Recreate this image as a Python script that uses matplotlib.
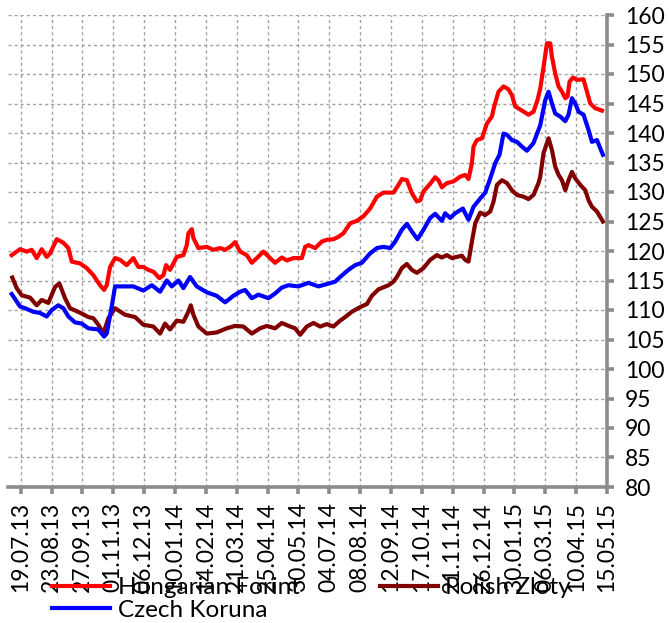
import matplotlib
matplotlib.use('Agg')
import matplotlib.pyplot as plt

# tick labels (every 5 weeks)
tick_labels = ["19.07.13", "23.08.13", "27.09.13", "01.11.13", "06.12.13", "10.01.14",
               "14.02.14", "21.03.14", "25.04.14", "30.05.14", "04.07.14", "08.08.14",
               "12.09.14", "17.10.14", "21.11.14", "26.12.14", "30.01.15", "06.03.15",
               "10.04.15", "15.05.15"]

# x = weeks since 19.07.13
huf_x = [-1.46, -0.11, 0.97, 1.78, 2.59, 3.40, 4.21, 4.75, 5.84, 6.91, 7.72, 8.27, 9.61, 10.70,
         11.77, 12.85, 13.50, 13.94, 14.48, 15.29, 16.10, 17.18, 18.25, 19.06, 19.87, 20.68,
         21.49, 22.47, 23.12, 23.55, 24.20, 24.74, 25.29, 26.36, 26.91, 27.17, 27.72, 27.98,
         28.79, 30.15, 31.22, 32.31, 33.12, 33.93, 34.74, 35.55, 36.63, 37.45, 38.26, 39.33,
         40.41, 41.22, 42.31, 43.12, 44.19, 45.55, 46.09, 46.62, 47.71, 48.79, 49.60, 50.67,
         51.48, 52.29, 53.38, 54.47, 55.54, 56.62, 57.71, 58.78, 60.40, 61.21, 61.76, 62.57,
         63.38, 64.19, 64.73, 65.26, 66.35, 67.16, 67.69, 68.24, 69.05, 70.13, 71.21, 72.02,
         72.56, 73.11, 73.37, 73.92, 74.73, 75.54, 76.35, 76.72, 77.42, 78.23, 79.04, 79.59,
         80.13, 81.21, 82.28, 83.09, 83.74, 84.18, 84.72, 85.27, 85.80, 86.08, 86.61, 87.15,
         87.70, 88.24, 88.61, 88.93, 89.49, 90.14, 91.20, 91.75, 92.29, 93.10, 94.18]
huf_y = [119.3, 120.3, 119.9, 120.2, 118.8, 120.3, 119.0, 119.6, 122.0, 121.4, 120.5, 118.2,
         117.9, 117.1, 115.9, 114.2, 113.4, 114.2, 117.3, 118.8, 118.5, 117.6, 118.8, 117.3,
         117.3, 116.8, 116.5, 115.4, 115.9, 117.6, 116.8, 117.9, 119.0, 119.3, 121.0, 123.0,
         123.7, 122.2, 120.5, 120.7, 120.2, 120.5, 120.2, 120.7, 121.5, 119.9, 119.3, 118.0,
         118.8, 119.9, 118.8, 118.0, 118.9, 118.4, 118.8, 118.8, 120.7, 121.0, 120.5, 121.6,
         121.9, 122.0, 122.4, 123.0, 124.7, 125.1, 125.9, 127.2, 129.2, 129.9, 129.9, 131.2,
         132.2, 132.0, 129.8, 128.4, 128.6, 130.1, 131.4, 132.5, 132.0, 130.8, 131.5, 131.8,
         132.6, 132.9, 132.2, 134.9, 137.7, 138.8, 139.1, 141.6, 142.8, 144.5, 147.0, 147.9,
         147.4, 146.4, 144.5, 143.8, 143.1, 143.6, 145.6, 147.5, 151.2, 155.2, 155.2, 152.9,
         150.1, 147.9, 147.0, 145.9, 146.2, 148.7, 149.4, 149.0, 149.1, 147.0, 145.0, 144.2,
         143.8]

pln_x = [-1.36, -0.65, 0.16, 1.51, 2.59, 3.40, 4.47, 5.56, 6.26, 7.18, 7.99, 9.08, 9.89, 10.96,
         11.77, 12.58, 13.39, 14.20, 15.29, 16.91, 18.53, 19.87, 21.49, 22.58, 23.39, 24.20,
         25.29, 26.36, 27.17, 27.56, 27.98, 28.79, 30.15, 31.77, 33.39, 34.74, 36.08, 37.45,
         38.79, 39.88, 41.22, 42.31, 43.65, 44.46, 45.28, 46.36, 47.43, 48.52, 49.60, 50.67,
         51.76, 52.57, 53.65, 55.01, 56.09, 56.90, 57.97, 59.60, 60.40, 60.95, 61.76, 62.57,
         63.38, 64.19, 65.26, 66.35, 67.43, 68.24, 69.05, 69.86, 70.67, 71.48, 72.02, 72.56,
         73.11, 73.65, 74.46, 75.27, 76.08, 76.62, 77.17, 77.98, 78.79, 79.59, 80.40, 81.48,
         82.28, 83.09, 83.90, 84.18, 84.72, 85.53, 86.08, 86.61, 87.15, 87.70, 88.24, 88.77,
         89.32, 89.86, 90.67, 91.48, 92.01, 92.56, 93.37, 94.34]
pln_y = [115.5, 113.7, 112.5, 112.1, 110.8, 111.7, 111.2, 113.9, 114.5, 112.0, 110.3, 109.8,
         109.4, 108.8, 108.6, 107.5, 106.0, 108.6, 110.3, 109.2, 108.8, 107.5, 107.2, 106.0,
         107.7, 106.7, 108.2, 108.0, 109.7, 110.8, 109.2, 107.2, 106.0, 106.2, 106.9, 107.3,
         107.2, 106.0, 106.9, 107.3, 106.9, 107.8, 107.2, 106.9, 105.8, 107.2, 107.8, 107.2,
         107.6, 107.2, 108.2, 108.8, 109.7, 110.5, 111.0, 112.4, 113.5, 114.2, 114.8, 115.6,
         117.1, 117.8, 116.8, 116.3, 117.1, 118.5, 119.3, 118.9, 119.3, 118.8, 119.0, 119.2,
         118.5, 118.2, 121.6, 124.7, 126.5, 126.1, 126.7, 128.4, 131.2, 132.0, 131.5, 130.3,
         129.5, 129.2, 128.8, 129.5, 131.5, 132.6, 136.6, 139.1, 137.1, 134.3, 132.9, 132.0,
         130.3, 132.0, 133.4, 132.3, 131.2, 130.3, 128.6, 127.5, 126.7, 125.0]

czk_x = [-1.46, -0.11, 0.70, 2.04, 3.13, 4.21, 5.03, 6.09, 6.91, 7.72, 8.80, 9.89, 10.96, 12.58,
         13.13, 13.50, 13.94, 14.75, 15.29, 16.63, 18.25, 19.87, 21.24, 22.58, 23.67, 24.48,
         25.55, 26.36, 27.44, 28.53, 30.15, 31.77, 33.12, 34.46, 35.55, 36.36, 37.45, 38.52,
         40.14, 41.22, 42.31, 43.38, 45.00, 46.62, 48.24, 49.60, 50.95, 51.76, 53.10, 54.19,
         55.28, 56.62, 57.71, 58.78, 59.87, 60.68, 61.76, 62.57, 63.38, 64.29, 65.26, 66.35,
         67.16, 68.24, 68.78, 69.59, 70.40, 71.64, 72.56, 73.37, 74.46, 75.27, 76.08, 76.89,
         77.58, 78.23, 78.79, 79.59, 80.40, 81.21, 82.03, 83.09, 84.18, 85.00, 85.53, 86.08,
         86.61, 87.42, 88.24, 88.77, 89.32, 89.86, 90.39, 91.20, 92.01, 92.56, 93.37, 94.34]
czk_y = [112.7, 110.6, 110.3, 109.7, 109.5, 108.9, 110.0, 110.8, 110.3, 108.9, 107.9, 107.7,
         106.9, 106.7, 106.0, 105.5, 106.0, 110.6, 114.0, 114.0, 114.0, 113.3, 114.2, 113.1,
         115.0, 114.0, 115.0, 113.7, 115.6, 114.0, 113.0, 112.4, 111.3, 112.4, 113.1, 113.4,
         112.0, 112.6, 112.0, 112.8, 113.8, 114.2, 114.0, 114.6, 114.0, 114.4, 114.8, 115.6,
         116.8, 117.6, 118.0, 119.6, 120.5, 120.7, 120.5, 121.6, 123.6, 124.6, 123.3, 122.0,
         123.6, 125.6, 126.3, 125.1, 126.4, 125.6, 126.4, 127.2, 125.3, 127.5, 128.9, 129.9,
         132.3, 134.9, 136.3, 139.9, 139.7, 138.8, 138.5, 137.7, 137.0, 138.3, 141.3, 145.6,
         147.0, 145.0, 143.3, 142.8, 142.0, 143.1, 145.9, 145.0, 143.6, 143.1, 140.5, 138.5,
         138.8, 136.3]

FONT = 'Lato'
AXIS_GREY = '#8c8c8c'

fig = plt.figure(figsize=(6.69, 6.23), dpi=100)
ax = fig.add_axes([8 / 669, 1 - 487 / 623, 599 / 669, 472 / 623])

l_huf, = ax.plot(huf_x, huf_y, color='#ff0000', lw=3, label='Hungarian Forint', solid_joinstyle='round')
l_pln, = ax.plot(pln_x, pln_y, color='#800000', lw=3, label='Polish Zloty', solid_joinstyle='round')
l_czk, = ax.plot(czk_x, czk_y, color='#0000ff', lw=3, label='Czech Koruna', solid_joinstyle='round')

ax.set_xlim(-2.06, 95)
ax.set_ylim(80, 160)
ax.set_xticks(range(0, 96, 5))
ax.set_xticklabels(tick_labels, rotation=90, fontsize=16.5, family=FONT, color='black')
ax.set_yticks(range(80, 161, 5))
ax.yaxis.tick_right()
for lab in ax.get_yticklabels():
    lab.set_fontsize(16.5)
    lab.set_family(FONT)

ax.grid(True, color='#a0a0a0', linestyle=(0, (2.2, 2.2)), linewidth=1)
ax.set_axisbelow(True)

ax.spines['left'].set_visible(False)
ax.spines['top'].set_visible(False)
for s in ('right', 'bottom'):
    ax.spines[s].set_color(AXIS_GREY)
    ax.spines[s].set_linewidth(2.6)
ax.tick_params(axis='both', direction='out', length=5, width=2.6, color=AXIS_GREY)
ax.tick_params(axis='y', pad=8)
ax.tick_params(axis='x', pad=6)

leg = fig.legend([l_huf, l_czk, l_pln], ['Hungarian Forint', 'Czech Koruna', 'Polish Zloty'],
                 ncol=2, loc='upper left', bbox_to_anchor=(52 / 669, 1 - 577 / 623),
                 frameon=False, prop={'family': FONT, 'size': 17.5},
                 handlelength=2.4, handletextpad=0.3, columnspacing=3.3,
                 labelspacing=0.08, borderpad=0, borderaxespad=0)

fig.savefig('out.png', dpi=100)
